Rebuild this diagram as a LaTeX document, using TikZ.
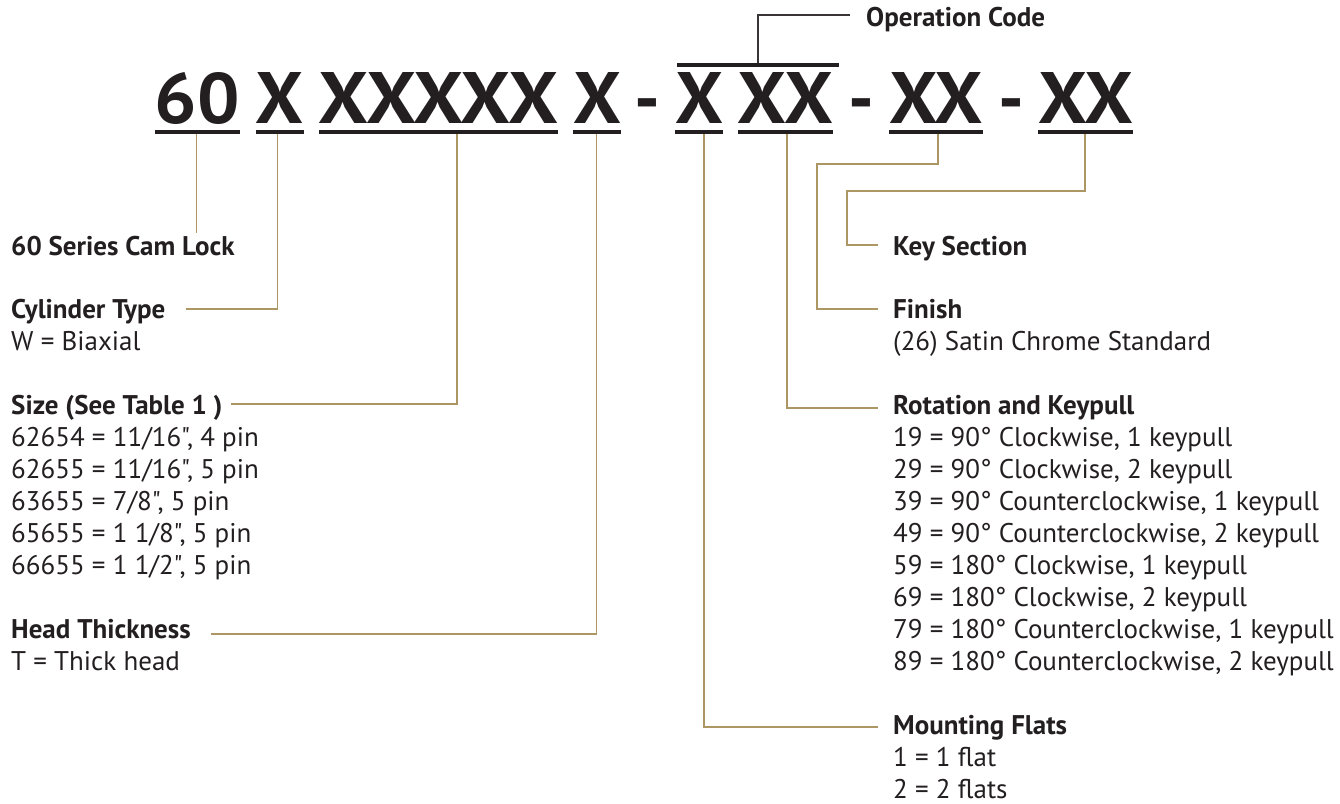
\documentclass[tikz,border=0pt]{standalone}
\usepackage{fontspec}
\setmainfont{PT Sans}[Ligatures=TeXOff]
\usepackage{graphicx}
\definecolor{gold}{RGB}{172,150,100}
\definecolor{ink}{RGB}{35,31,32}
\begin{document}
\begin{tikzpicture}[x=1pt,y=-1pt,
  conn/.style={draw=gold,line width=1.6pt},
  opconn/.style={draw=ink!90,line width=1.6pt},
  code/.style={inner sep=0pt,anchor=base,text=ink,font=\bfseries},
  dashsym/.style={inner sep=0pt,anchor=base,text=ink,font=\bfseries\fontsize{72}{72}\selectfont},
  uline/.style={fill=ink,inner sep=0pt,minimum height=4pt},
  lbl/.style={inner sep=0pt,anchor=base west,text=ink,font=\fontsize{27}{32}\selectfont}]
\useasboundingbox (0,0) rectangle (1340,803);

% code groups
\node[code] (g60)   at (197.5,123) {\resizebox{85pt}{51pt}{60}};
\node[code] (gCyl)  at (279.5,123) {\resizebox{48pt}{51pt}{X}};
\node[code] (gSize) at (438.5,123) {\resizebox{239pt}{51pt}{XXXXX}};
\node[code] (gHead) at (597,123)   {\resizebox{48pt}{51pt}{X}};
\node[dashsym] (d1) at (647.5,123) {-};
\node[code] (gMount) at (699,123)  {\resizebox{48pt}{51pt}{X}};
\node[code] (gRot)  at (785.5,123) {\resizebox{95pt}{51pt}{XX}};
\node[dashsym] (d2) at (861.5,123) {-};
\node[code] (gFin)  at (936,123)   {\resizebox{94pt}{51pt}{XX}};
\node[dashsym] (d3) at (1011.5,123) {-};
\node[code] (gKey)  at (1085.5,123) {\resizebox{95pt}{51pt}{XX}};

% underlines and overline
\node[uline,minimum width=85pt]  (u60)    at (197.5,132) {};
\node[uline,minimum width=48pt]  (uCyl)   at (279.5,132) {};
\node[uline,minimum width=239pt] (uSize)  at (438.5,132) {};
\node[uline,minimum width=48pt]  (uHead)  at (597,132) {};
\node[uline,minimum width=48pt]  (uMount) at (699,132) {};
\node[uline,minimum width=95pt]  (uRot)   at (785.5,132) {};
\node[uline,minimum width=94pt]  (uFin)   at (936,132) {};
\node[uline,minimum width=95pt]  (uKey)   at (1085.5,132) {};
\node[uline,minimum width=162pt] (uOver)  at (758,65) {};

% labels
\node[lbl,font=\bfseries\fontsize{27}{32}\selectfont] (lOp) at (866,27) {Operation Code};
\node[lbl] (lSeries) at (11,255) {\textbf{60 Series Cam Lock}};
\node[lbl] (lCyl) at (11,318) {\begin{tabular}[t]{@{}l@{}}\textbf{Cylinder Type}\\W = Biaxial\end{tabular}};
\node[lbl] (lSize) at (11,414) {\begin{tabular}[t]{@{}l@{}}\textbf{Size (See Table 1 )}\\
62654 = 11/16", 4 pin\\62655 = 11/16", 5 pin\\63655 = 7/8", 5 pin\\65655 = 1 1/8", 5 pin\\66655 = 1 1/2", 5 pin\end{tabular}};
\node[lbl] (lHead) at (11,638) {\begin{tabular}[t]{@{}l@{}}\textbf{Head Thickness}\\T = Thick head\end{tabular}};
\node[lbl] (lKey) at (893,255) {\textbf{Key Section}};
\node[lbl] (lFin) at (893,318) {\begin{tabular}[t]{@{}l@{}}\textbf{Finish}\\(26) Satin Chrome Standard\end{tabular}};
\node[lbl] (lRot) at (893,414) {\begin{tabular}[t]{@{}l@{}}\textbf{Rotation and Keypull}\\
19 = 90° Clockwise, 1 keypull\\29 = 90° Clockwise, 2 keypull\\39 = 90° Counterclockwise, 1 keypull\\49 = 90° Counterclockwise, 2 keypull\\
59 = 180° Clockwise, 1 keypull\\69 = 180° Clockwise, 2 keypull\\79 = 180° Counterclockwise, 1 keypull\\89 = 180° Counterclockwise, 2 keypull\end{tabular}};
\node[lbl] (lMount) at (893,734) {\begin{tabular}[t]{@{}l@{}}\textbf{Mounting Flats}\\1 = 1 flat\\2 = 2 flats\end{tabular}};

% connector ends
\coordinate (eOp) at (850,15);
\coordinate (e60) at (196.5,233);
\coordinate (eCyl) at (186,309);
\coordinate (eSize) at (231,404);
\coordinate (eHead) at (211,634);
\coordinate (eMount) at (878,727);
\coordinate (eRot) at (878,408);
\coordinate (eFin) at (878,309);
\coordinate (eKey) at (878,245);

% connectors
\draw[opconn] (uOver.north -| 758,0) |- (eOp);
\draw[conn] (u60.south -| e60) -- (e60);
\draw[conn] (uCyl.south -| 277.5,0) |- (eCyl);
\draw[conn] (uSize.south -| 457,0) |- (eSize);
\draw[conn] (uHead.south -| 596.5,0) |- (eHead);
\draw[conn] (uMount.south -| 704,0) |- (eMount);
\draw[conn] (uRot.south -| 787,0) |- (eRot);
\draw[conn] (uFin.south -| 938,0) |- (817,164) |- (eFin);
\draw[conn] (uKey.south -| 1085,0) |- (847,191) |- (eKey);
\end{tikzpicture}
\end{document}
